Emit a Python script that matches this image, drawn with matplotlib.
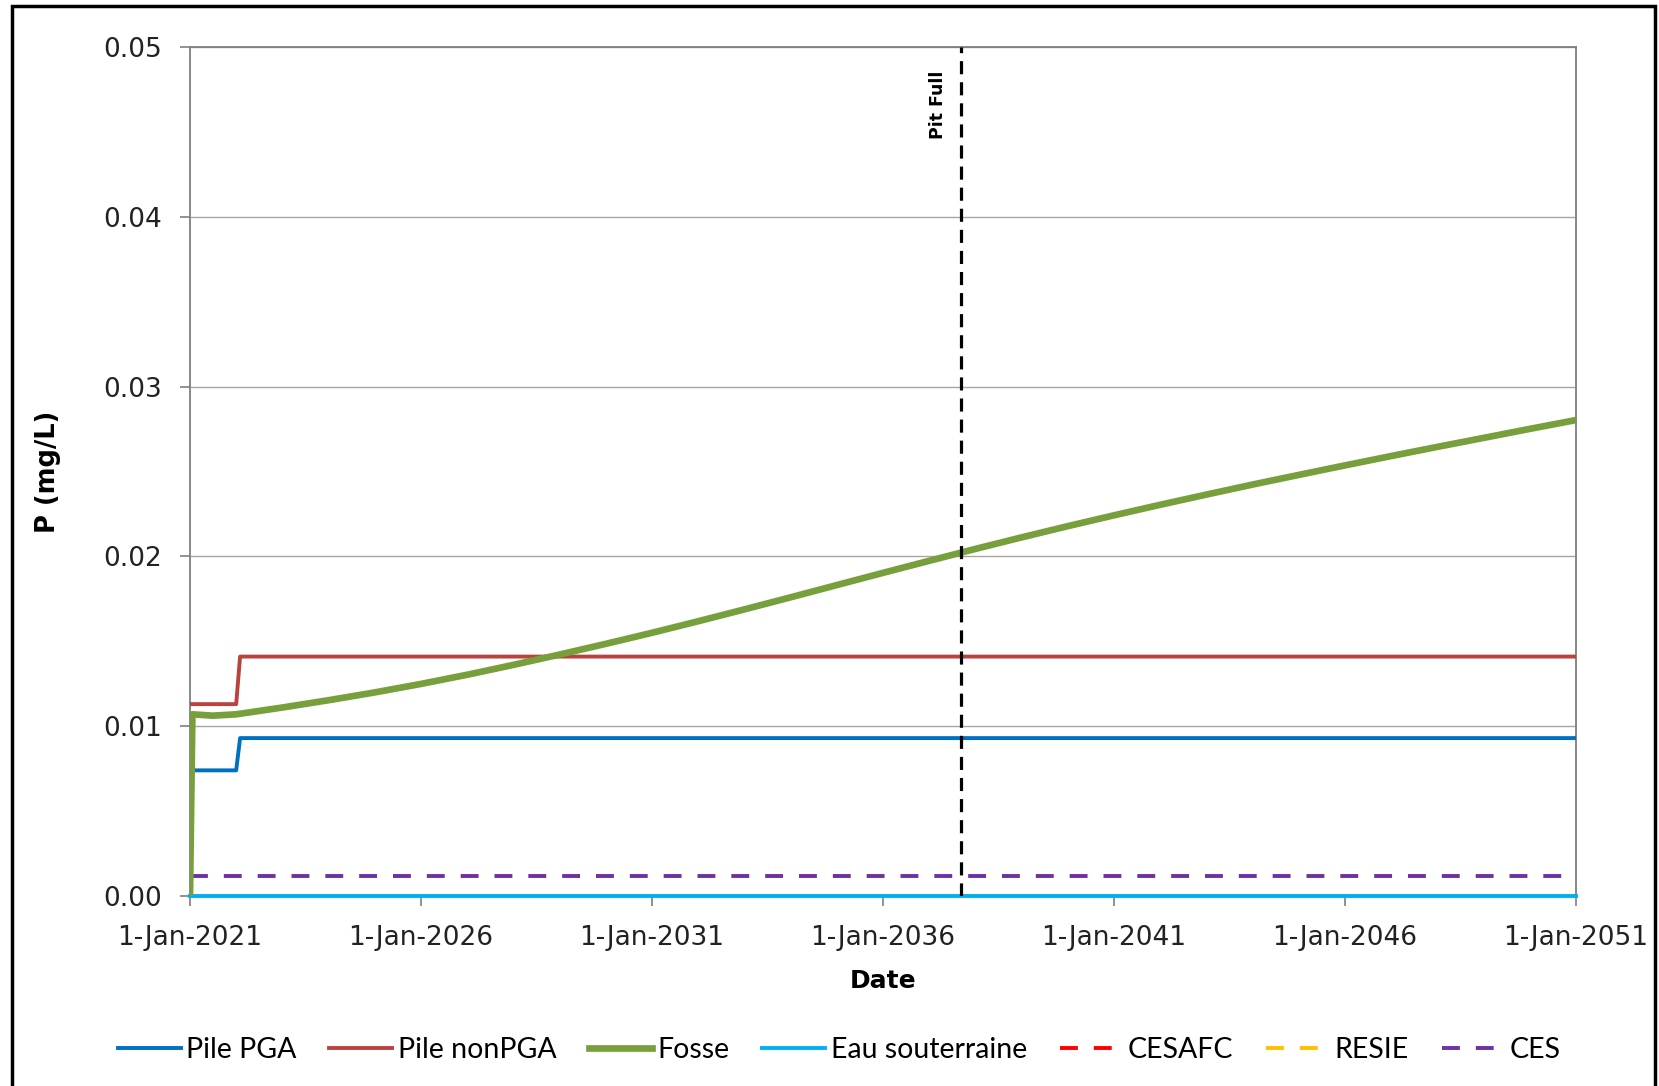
import matplotlib.pyplot as plt
from matplotlib.patches import Rectangle
import numpy as np
from datetime import datetime

# --- data ---
pga_dates = ["2021-01-01", "2022-01-01", "2022-02-01", "2051-01-01"]
pga_vals = [0.0074, 0.0074, 0.0093, 0.0093]

nonpga_dates = ["2021-01-01", "2022-01-01", "2022-02-01", "2051-01-01"]
nonpga_vals = [0.0113, 0.0113, 0.0141, 0.0141]

fosse_dates = ["2021-01-01", "2021-01-20", "2021-07-01", "2022-01-01", "2023-01-01",
               "2024-01-01", "2025-01-01", "2026-01-01", "2027-01-01", "2028-01-01",
               "2029-01-01", "2030-01-01", "2031-01-01", "2032-01-01", "2033-01-01",
               "2034-01-01", "2035-01-01", "2036-01-01", "2037-01-01", "2038-01-01",
               "2039-01-01", "2040-01-01", "2041-01-01", "2042-01-01", "2043-01-01",
               "2044-01-01", "2045-01-01", "2046-01-01", "2047-01-01", "2048-01-01",
               "2049-01-01", "2050-01-01", "2051-01-01"]
fosse_vals = [0.0, 0.0107, 0.01062, 0.0107, 0.01110,
              0.01153, 0.01199, 0.01249, 0.01303, 0.01361,
              0.01422, 0.01485, 0.01550, 0.01618, 0.01688,
              0.01759, 0.01831, 0.01903, 0.01974, 0.02044,
              0.02112, 0.02178, 0.02242, 0.02304, 0.02364,
              0.02423, 0.02480, 0.02536, 0.02591, 0.02645,
              0.02698, 0.02751, 0.02803]

eau_dates = ["2021-01-01", "2051-01-01"]
eau_vals = [0.0, 0.0]

ces_dates = ["2021-01-01", "2051-01-01"]
ces_vals = [0.0012, 0.0012]

# CESAFC and RESIE appear only in the legend
cesafc_dates, cesafc_vals = [], []
resie_dates, resie_vals = [], []

pit_full = "2037-09-10"
tick_years = [2021, 2026, 2031, 2036, 2041, 2046, 2051]


def to_dates(lst):
    return [datetime.strptime(d, "%Y-%m-%d") for d in lst]


fig = plt.figure(figsize=(16.59, 10.86), dpi=100)
ax = fig.add_axes([190 / 1659, 1 - 896 / 1086, (1576 - 190) / 1659, (896 - 47) / 1086])

dash = (0, (4.6, 4.1))
ax.plot(to_dates(pga_dates), pga_vals, color="#0070C0", lw=2.8, label="Pile PGA", zorder=3)
ax.plot(to_dates(nonpga_dates), nonpga_vals, color="#B8443F", lw=2.8, label="Pile nonPGA", zorder=3)
ax.plot(to_dates(fosse_dates), fosse_vals, color="#77A03C", lw=4.8, label="Fosse", zorder=4)
ax.plot(to_dates(eau_dates), eau_vals, color="#00B0F0", lw=2.8, label="Eau souterraine", zorder=3,
        clip_on=False)
ax.plot(to_dates(cesafc_dates), cesafc_vals, color="#FF0000", lw=2.8, ls=dash, label="CESAFC")
ax.plot(to_dates(resie_dates), resie_vals, color="#FFC000", lw=2.8, ls=dash, label="RESIE")
ax.plot(to_dates(ces_dates), ces_vals, color="#7030A0", lw=2.8, ls=dash, label="CES", zorder=3)

pit = datetime.strptime(pit_full, "%Y-%m-%d")
ax.axvline(pit, color="black", lw=2.3, ls=(0, (4.1, 2.5)), zorder=6)
ax.annotate("Pit Full", xy=(pit, 0.0486), xytext=(-10, 0), textcoords="offset points",
            rotation=90, ha="right", va="top", fontsize=12.5, fontweight="bold",
            family="DejaVu Sans")

ax.set_xlim(datetime(2021, 1, 1), datetime(2051, 1, 1))
ax.set_ylim(0, 0.05)
ax.set_yticks(np.arange(0, 0.051, 0.01))
ax.yaxis.set_major_formatter(plt.FormatStrFormatter("%.2f"))
ax.set_xticks([datetime(y, 1, 1) for y in tick_years])
ax.set_xticklabels([f"1-Jan-{y}" for y in tick_years])

ax.grid(axis="y", color="#A6A6A6", lw=1.0)
ax.set_axisbelow(True)
for s in ax.spines.values():
    s.set_color("#7F7F7F")
    s.set_linewidth(1.3)
ax.tick_params(axis="both", labelsize=19, color="#7F7F7F", length=7, width=1.2,
               labelcolor="#222222")
ax.tick_params(axis="x", pad=14)
ax.tick_params(axis="y", pad=13)

ax.set_xlabel("Date", fontsize=18, fontweight="bold", va="center")
ax.set_ylabel("P (mg/L)", fontsize=18.5, fontweight="bold", va="center")
ax.xaxis.set_label_coords(0.5, (896 - 981) / 849)
ax.yaxis.set_label_coords((48 - 190) / 1386, 0.5)

fig.legend(loc="center", bbox_to_anchor=(0.506, 1 - 1050 / 1086), ncol=7, frameon=False,
           handlelength=2.2, columnspacing=1.15, handletextpad=0.2,
           prop={"family": ["Lato", "DejaVu Sans"], "size": 20.5})

# outer chart border
fig.patches.append(Rectangle((12 / 1659, -0.05), (1655 - 12) / 1659, 1.05 - 6 / 1086,
                             transform=fig.transFigure, fill=False, edgecolor="black", lw=2.5))

fig.savefig("out.png", dpi=100)
